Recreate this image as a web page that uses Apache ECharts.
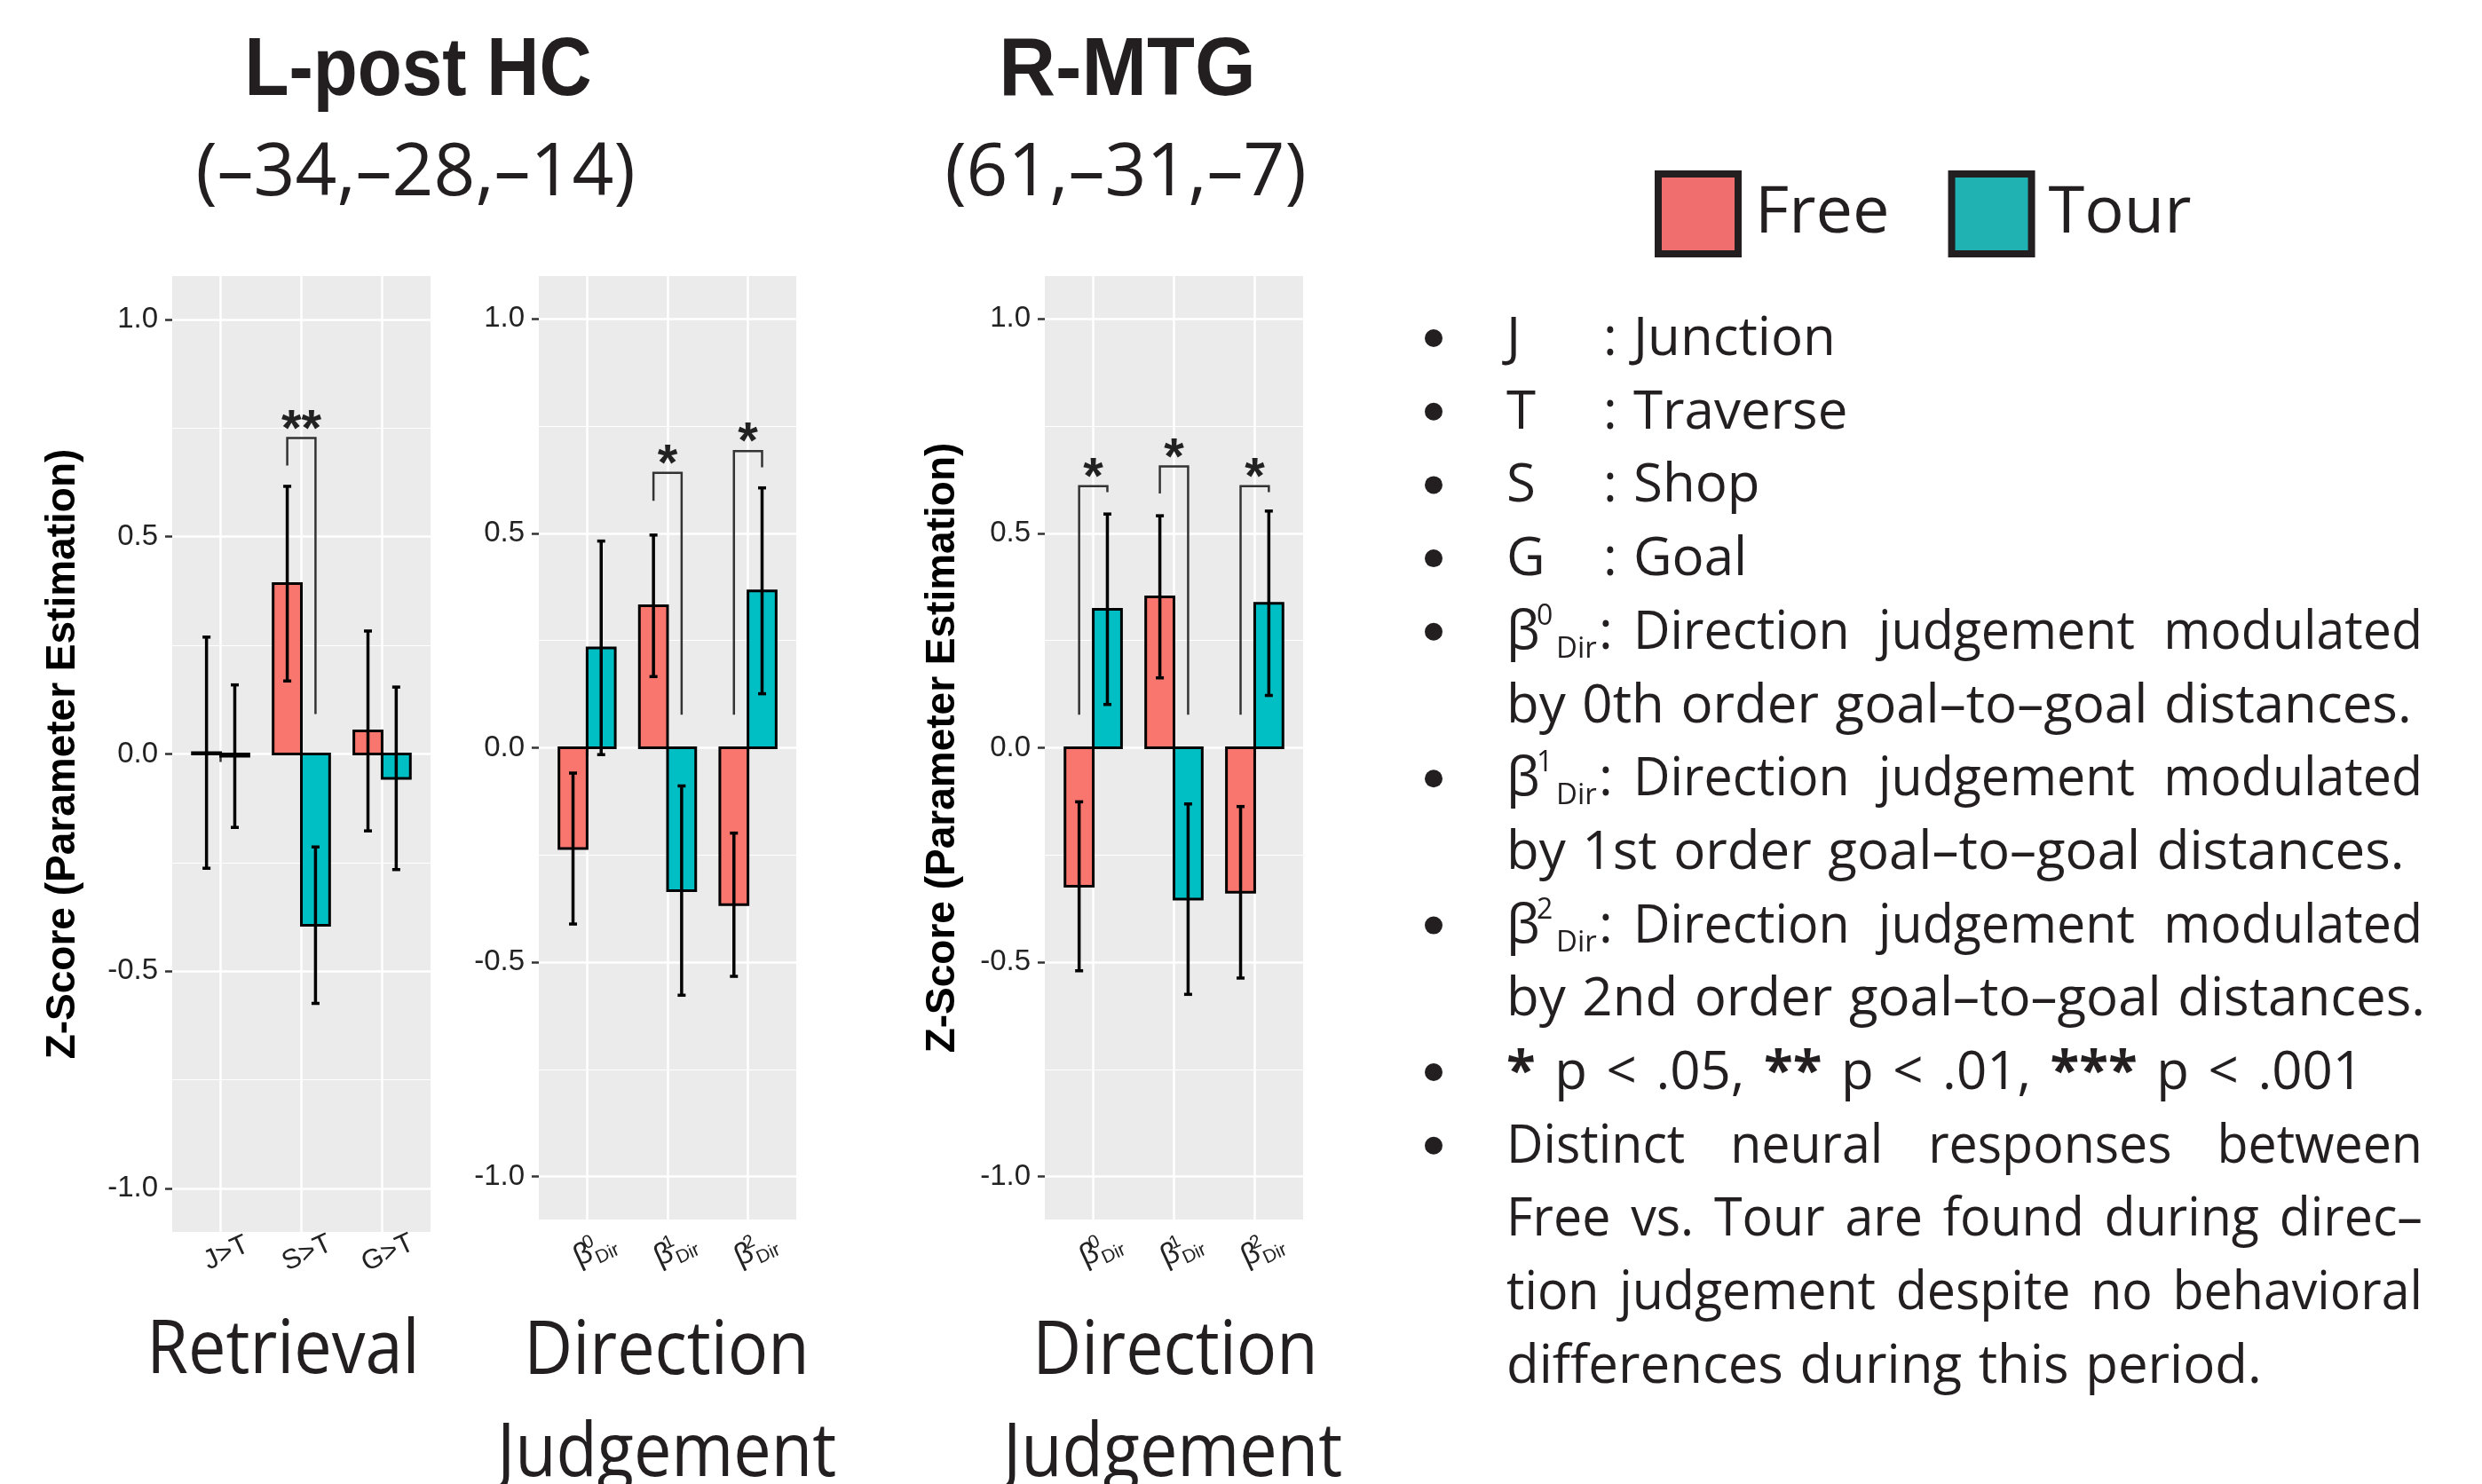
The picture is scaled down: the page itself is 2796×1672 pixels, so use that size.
<!DOCTYPE html>
<html><head><meta charset="utf-8">
<script src="https://cdn.jsdelivr.net/npm/echarts@6/dist/echarts.min.js"></script>
<style>html,body{margin:0;padding:0;background:#fff}#c{width:2796px;height:1672px}</style>
</head><body><div id="c"></div>
<script>
// ---------------- data ----------------
const retrievalCategories = ['J>T', 'S>T', 'G>T'];
const directionOrders = ['0', '1', '2'];          // β^k_Dir
const yTicks = [-1.0, -0.5, 0.0, 0.5, 1.0];
const seriesNames = ['Free', 'Tour'];

const hcRetrievalFree = [0.003, 0.392, 0.053];
const hcRetrievalFreeErr = [0.266, 0.224, 0.230];
const hcRetrievalTour = [-0.005, -0.394, -0.056];
const hcRetrievalTourErr = [0.164, 0.180, 0.210];

const hcDirectionFree = [-0.235, 0.331, -0.366];
const hcDirectionFreeErr = [0.176, 0.165, 0.167];
const hcDirectionTour = [0.233, -0.333, 0.366];
const hcDirectionTourErr = [0.249, 0.244, 0.240];

const mtgDirectionFree = [-0.323, 0.352, -0.337];
const mtgDirectionFreeErr = [0.197, 0.189, 0.200];
const mtgDirectionTour = [0.323, -0.353, 0.337];
const mtgDirectionTourErr = [0.222, 0.222, 0.215];

// significance brackets: [category index (0-based), bracket height, Free-leg end, Tour-leg end, label]
const hcRetrievalSig = [[1, 0.727, 0.664, 0.092, '**']];
const hcDirectionSig = [[1, 0.641, 0.576, 0.077, '*'], [2, 0.692, 0.077, 0.654, '*']];
const mtgDirectionSig = [[0, 0.610, 0.077, 0.596, '*'], [1, 0.656, 0.593, 0.077, '*'], [2, 0.610, 0.077, 0.596, '*']];

const regionTitles = ['L-post HC', 'R-MTG'];
const regionCoords = ['(–34,–28,–14)', '(61,–31,–7)'];
const phaseTitles = ['Retrieval', 'Direction', 'Judgement'];
const yAxisTitle = 'Z-Score (Parameter Estimation)';

const noteKeys = [['J', 'Junction'], ['T', 'Traverse'], ['S', 'Shop'], ['G', 'Goal']];
const noteBetaLines = [
  ['0', 'Direction judgement modulated', 'by 0th order goal–to–goal distances.'],
  ['1', 'Direction judgement modulated', 'by 1st order goal–to–goal distances.'],
  ['2', 'Direction judgement modulated', 'by 2nd order goal–to–goal distances.']
];
const notePLine = [['*', true], [' p < .05, ', false], ['**', true], [' p < .01, ', false], ['***', true], [' p < .001', false]];
const noteLastLines = ['Distinct neural responses between', 'Free vs. Tour are found during direc–', 'tion judgement despite no behavioral', 'differences during this period.'];

// ---------------- styling ----------------
const FREE_COLOR = '#F8766D', TOUR_COLOR = '#00BFC4';
const INK = '#231F20';
const AXIS_FONT = '"Liberation Sans", Arial, sans-serif';
const TEXT_FONT = '"Open Sans", "Noto Sans", sans-serif';
const NOTE_FONT = TEXT_FONT;

const panels = [
  { grid: { left: 194, top: 311, width: 291, height: 1077 }, kind: 'retrieval',
    free: hcRetrievalFree, freeErr: hcRetrievalFreeErr, tour: hcRetrievalTour, tourErr: hcRetrievalTourErr,
    sig: hcRetrievalSig, name: yAxisTitle, nameGap: 100 },
  { grid: { left: 607, top: 311, width: 290, height: 1063 }, kind: 'direction',
    free: hcDirectionFree, freeErr: hcDirectionFreeErr, tour: hcDirectionTour, tourErr: hcDirectionTourErr,
    sig: hcDirectionSig, name: '', nameGap: 0 },
  { grid: { left: 1177, top: 311, width: 291, height: 1063 }, kind: 'direction',
    free: mtgDirectionFree, freeErr: mtgDirectionFreeErr, tour: mtgDirectionTour, tourErr: mtgDirectionTourErr,
    sig: mtgDirectionSig, name: yAxisTitle, nameGap: 92 }
];

const HALF = 0.175; // half bar width in category units

const grids = [], xAxes = [], yAxes = [], series = [];
panels.forEach((p, i) => {
  grids.push(Object.assign({ show: true, backgroundColor: '#EBEBEB', borderWidth: 0, containLabel: false, outerBoundsMode: 'none' }, p.grid));
  const rich = {
    b: { fontSize: 34, fontFamily: AXIS_FONT, color: '#222', lineHeight: 42 },
    sup: { fontSize: 21, fontFamily: AXIS_FONT, color: '#222', verticalAlign: 'top', lineHeight: 25, width: 2, align: 'left' },
    sub: { fontSize: 21, fontFamily: AXIS_FONT, color: '#222', verticalAlign: 'bottom', lineHeight: 25 }
  };
  xAxes.push({
    type: 'value', gridIndex: i, min: 0.4, max: 3.6, minInterval: 1, maxInterval: 1,
    axisLine: { show: false },
    axisTick: { show: true, customValues: [1, 2, 3], length: 9, lineStyle: { color: '#333', width: 2.5 } },
    splitLine: { show: true, lineStyle: { color: '#fff', width: 2.5 } },
    axisLabel: {
      customValues: [1, 2, 3], rotate: 25, align: 'center', verticalAlign: 'top',
      margin: p.kind === 'retrieval' ? 10 : 15,
      fontSize: 31, fontFamily: AXIS_FONT, color: '#222',
      formatter: v => {
        const k = Math.round(v) - 1;
        if (p.kind === 'retrieval') return retrievalCategories[k];
        return '{b|β}{sup|' + directionOrders[k] + '}{sub|Dir}';
      },
      rich: rich
    }
  });
  yAxes.push({
    type: 'value', gridIndex: i, min: -1.1, max: 1.1, minInterval: 0.5, maxInterval: 0.5,
    axisLine: { show: false },
    axisTick: { show: true, customValues: yTicks, length: 8, lineStyle: { color: '#333', width: 2.5 } },
    axisLabel: { customValues: yTicks, formatter: v => v.toFixed(1), fontSize: 33, fontFamily: AXIS_FONT, color: '#222', margin: 16 },
    splitLine: { show: true, lineStyle: { color: '#fff', width: 2.5 } },
    minorTick: { show: false, splitNumber: 2 },
    minorSplitLine: { show: true, lineStyle: { color: '#fff', width: 1.2 } },
    name: p.name, nameLocation: 'middle', nameRotate: 90, nameGap: p.nameGap,
    nameTextStyle: { fontFamily: AXIS_FONT, fontWeight: 'bold', fontSize: 46, color: '#000' }
  });

  [[seriesNames[0], p.free, p.freeErr, -HALF, FREE_COLOR], [seriesNames[1], p.tour, p.tourErr, HALF, TOUR_COLOR]].forEach(([name, vals, errs, off, color]) => {
    series.push({
      type: 'custom', name: name, xAxisIndex: i, yAxisIndex: i, z: 2,
      itemStyle: { color: color },
      data: vals.map((v, k) => [k + 1, v, errs[k]]),
      encode: { x: 0, y: 1 },
      renderItem: (params, api) => {
        const x = api.value(0) + off, v = api.value(1), e = api.value(2);
        const a = api.coord([x - HALF, v]), b = api.coord([x + HALF, 0]);
        const t = api.coord([x, v + e]), d = api.coord([x, v - e]);
        const cap = 4.5;
        return { type: 'group', children: [
          { type: 'rect', shape: { x: a[0], y: Math.min(a[1], b[1]), width: b[0] - a[0], height: Math.abs(b[1] - a[1]) },
            style: { fill: color, stroke: '#000', lineWidth: 3 } },
          { type: 'line', shape: { x1: t[0], y1: t[1], x2: d[0], y2: d[1] }, style: { stroke: '#000', lineWidth: 3.5 } },
          { type: 'line', shape: { x1: t[0] - cap, y1: t[1], x2: t[0] + cap, y2: t[1] }, style: { stroke: '#000', lineWidth: 3.5 } },
          { type: 'line', shape: { x1: d[0] - cap, y1: d[1], x2: d[0] + cap, y2: d[1] }, style: { stroke: '#000', lineWidth: 3.5 } }
        ] };
      }
    });
  });

  const sig = p.sig;
  series.push({
    type: 'custom', name: 'sig', xAxisIndex: i, yAxisIndex: i, z: 3, silent: true,
    data: sig.map(s => [s[0] + 1, s[1], s[2], s[3]]),
    encode: { x: 0, y: 1 },
    renderItem: (params, api) => {
      const c = api.value(0), top = api.value(1), l = api.value(2), r = api.value(3);
      const p1 = api.coord([c - HALF, l]), p2 = api.coord([c - HALF, top]);
      const p3 = api.coord([c + HALF, top]), p4 = api.coord([c + HALF, r]);
      const mid = api.coord([c, top]);
      return { type: 'group', children: [
        { type: 'polyline', shape: { points: [p1, p2, p3, p4] }, style: { stroke: '#333', lineWidth: 2.5, fill: null } },
        { type: 'text', x: mid[0], y: mid[1] - 8, style: { text: sig[params.dataIndex][4], fontSize: 58, fontWeight: 'bold', fontFamily: AXIS_FONT, fill: '#222', align: 'center', verticalAlign: 'middle' } }
      ] };
    }
  });
});

// ---------------- text helpers ----------------
const mctx = document.createElement('canvas').getContext('2d');
function fontStr(size, family, weight) { return (weight || 'normal') + ' ' + size + 'px ' + family; }
function textWidth(t, size, family, weight) { mctx.font = fontStr(size, family, weight); return mctx.measureText(t).width; }
function midOffset(size, family, weight) {
  mctx.font = fontStr(size, family, weight); mctx.textBaseline = 'middle';
  const m = mctx.measureText('H'); mctx.textBaseline = 'alphabetic';
  return m.actualBoundingBoxDescent; // distance from middle line down to baseline
}
function txt(text, x, baseline, size, family, opts) {
  opts = opts || {};
  return {
    type: 'text', x: x, y: baseline - midOffset(size, family, opts.weight), scaleX: opts.scaleX || 1, silent: true,
    style: { text: text, fontSize: size, fontFamily: family, fontWeight: opts.weight || 'normal', fill: opts.color || INK,
      align: opts.align || 'left', verticalAlign: 'middle' }
  };
}

const graphics = [];
// region titles
graphics.push(txt(regionTitles[0], 471, 107, 92, AXIS_FONT, { weight: 'bold', align: 'center', scaleX: 0.89 }));
graphics.push(txt(regionTitles[1], 1270, 107, 92, AXIS_FONT, { weight: 'bold', align: 'center', scaleX: 0.96 }));
graphics.push(txt(regionCoords[0], 468, 220, 82, TEXT_FONT, { align: 'center', scaleX: 1 }));
graphics.push(txt(regionCoords[1], 1268, 220, 82, TEXT_FONT, { align: 'center', scaleX: 1 }));
// phase titles
graphics.push(txt(phaseTitles[0], 319, 1547, 84, TEXT_FONT, { align: 'center', scaleX: 0.9 }));
graphics.push(txt(phaseTitles[1], 751, 1548, 84, TEXT_FONT, { align: 'center', scaleX: 0.9 }));
graphics.push(txt(phaseTitles[2], 751, 1663, 84, TEXT_FONT, { align: 'center', scaleX: 0.9 }));
graphics.push(txt(phaseTitles[1], 1324, 1548, 84, TEXT_FONT, { align: 'center', scaleX: 0.9 }));
graphics.push(txt(phaseTitles[2], 1321, 1663, 84, TEXT_FONT, { align: 'center', scaleX: 0.9 }));

// notes
const NS = 60, LINE0 = 400, LSTEP = 82.7, X0 = 1697, XR = 2729, JSCALE = 0.955;
function bullet(base) { graphics.push({ type: 'circle', shape: { cx: 1615, cy: base - 19, r: 10 }, style: { fill: INK }, silent: true }); }
function justify(text, x0, x1, base) {
  const words = text.split(' ');
  const ws = words.map(w => textWidth(w, NS, NOTE_FONT) * JSCALE);
  const gap = (x1 - x0 - ws.reduce((a, b) => a + b, 0)) / (words.length - 1);
  let x = x0;
  words.forEach((w, k) => { graphics.push(txt(w, x, base, NS, NOTE_FONT, { scaleX: JSCALE })); x += ws[k] + gap; });
}
function spaced(segments, x0, base, extra) {
  let x = x0;
  segments.forEach(([t, bold]) => {
    const w = bold ? 'bold' : 'normal';
    t.split(/( )/).forEach(piece => {
      if (piece === '') return;
      if (piece === ' ') { x += textWidth(' ', NS, NOTE_FONT) + extra; return; }
      graphics.push(txt(piece, x, base, NS, NOTE_FONT, { weight: w }));
      x += textWidth(piece, NS, NOTE_FONT, w);
    });
  });
}
let line = 0;
noteKeys.forEach(([k, v]) => {
  const base = LINE0 + LSTEP * line++;
  bullet(base);
  graphics.push(txt(k, X0, base, NS, NOTE_FONT));
  graphics.push(txt(':', 1806, base, NS, NOTE_FONT));
  graphics.push(txt(v, 1840, base, NS, NOTE_FONT));
});
noteBetaLines.forEach(([ord, l1, l2]) => {
  let base = LINE0 + LSTEP * line++;
  bullet(base);
  graphics.push(txt('β', X0, base, NS, NOTE_FONT));
  graphics.push(txt(ord, 1731, base - 27, 32, NOTE_FONT));
  graphics.push(txt('Dir', 1753, base + 10, 33, NOTE_FONT));
  graphics.push(txt(':', 1801, base, NS, NOTE_FONT));
  justify(l1, 1840, XR, base);
  base = LINE0 + LSTEP * line++;
  spaced([[l2, false]], X0, base, 3);
});
{
  const base = LINE0 + LSTEP * line++;
  bullet(base);
  spaced(notePLine, X0, base, 6);
}
noteLastLines.forEach((t, k) => {
  const base = LINE0 + LSTEP * line++;
  if (k === 0) bullet(base);
  if (k < noteLastLines.length - 1) justify(t, X0, XR, base);
  else spaced([[t, false]], X0, base, 3);
});

const chart = echarts.init(document.getElementById('c'), null, { renderer: 'canvas', width: 2796, height: 1672 });
chart.setOption({
  backgroundColor: '#fff',
  animation: false,
  grid: grids, xAxis: xAxes, yAxis: yAxes, series: series,
  legend: {
    left: 1859, top: 187, icon: 'rect', itemWidth: 90, itemHeight: 90, itemGap: 66, selectedMode: false,
    data: [
      { name: 'Free', itemStyle: { color: '#F16E6E', borderColor: INK, borderWidth: 8 } },
      { name: 'Tour', itemStyle: { color: '#20B2B3', borderColor: INK, borderWidth: 8 } }
    ],
    textStyle: { fontFamily: TEXT_FONT, fontSize: 74, color: INK, padding: [0, 0, 0, 14] }
  },
  graphic: { elements: graphics }
});
</script></body></html>
